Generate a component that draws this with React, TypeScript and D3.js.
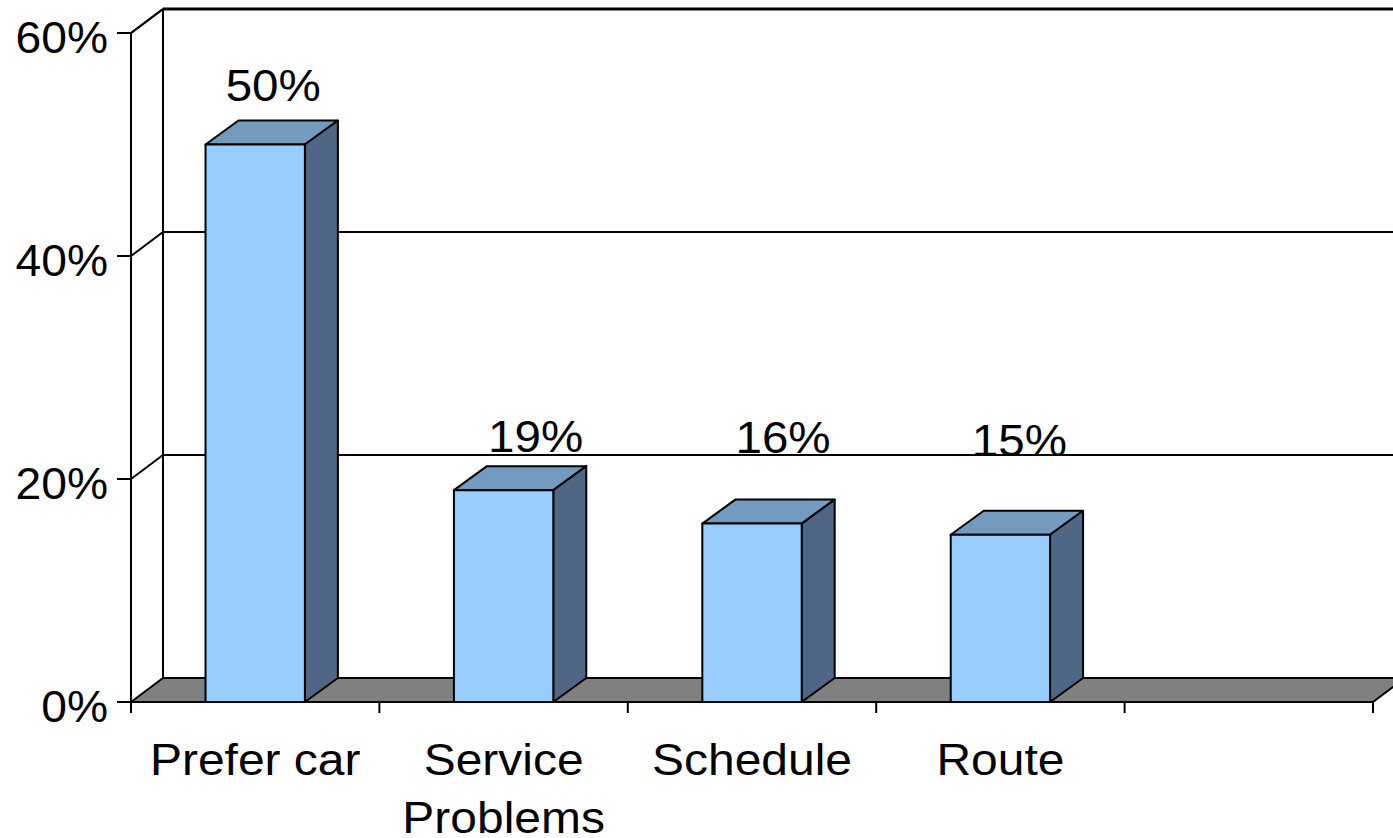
import React from "react";
import * as d3 from "d3";

// ---- data ----
const categories: string[] = ["Prefer car", "Service\nProblems", "Schedule", "Route", ""];
const values: number[] = [50, 19, 16, 15];
const valueLabels: string[] = ["50%", "19%", "16%", "15%"];
const yTicks: number[] = [0, 20, 40, 60];

// ---- layout ----
const W = 1393;
const H = 838;
const DX = 32;
const DY = -24;
const FONT = "'Liberation Sans', Arial, Helvetica, sans-serif";
// label nudges relative to bar's top-back centre (as placed in the reference)
const labelNudgeX = [18, 32, 31, 19];
const labelNudgeY = [-20, -14, -47, -55];

export default function App() {
  const x = d3.scaleBand<string>().domain(categories.map((c, i) => String(i))).range([131, 1373]).padding(0);
  const y = d3.scaleLinear().domain([0, 60]).range([702, 33]);
  const bw = x.bandwidth() * 0.4;
  const bdx = 33;
  const bdy = -24;

  const stroke = "#000";
  const sw = 2;

  const x0 = 131;
  const x1 = 1373;

  return (
    <svg width={W} height={H} style={{ position: "absolute", left: 0, top: 0, background: "#fff" }}>
      {/* back wall & left wall outlines */}
      <line x1={x0 + DX} y1={y(60) + DY} x2={x0 + DX} y2={y(0) + DY} stroke={stroke} strokeWidth={sw} />
      <line x1={x0} y1={y(60)} x2={x0 + DX} y2={y(60) + DY} stroke={stroke} strokeWidth={sw} />
      {yTicks.map((t) => (
        <g key={"g" + t}>
          {t > 0 && (
            <line x1={x0} y1={y(t)} x2={x0 + DX} y2={y(t) + DY} stroke={stroke} strokeWidth={sw} />
          )}
          {t > 0 && (
            <line x1={x0 + DX} y1={y(t) + DY} x2={x1 + DX + 40} y2={y(t) + DY} stroke={stroke} strokeWidth={t === 60 ? 3 : sw} />
          )}
        </g>
      ))}
      {/* floor */}
      <path
        d={`M${x0},${y(0)} L${x1},${y(0)} L${x1 + DX},${y(0) + DY} L${x0 + DX},${y(0) + DY} Z`}
        fill="#808080"
        stroke={stroke}
        strokeWidth={sw}
        strokeLinejoin="round"
      />
      {/* bars */}
      {values.map((v, i) => {
        const cx = (x(String(i)) as number) + x.bandwidth() / 2;
        const l = cx - bw / 2;
        const r = cx + bw / 2;
        const top = y(v);
        const bot = y(0);
        return (
          <g key={"b" + i} stroke={stroke} strokeWidth={sw} strokeLinejoin="round">
            <path d={`M${l},${top} L${r},${top} L${r + bdx},${top + bdy} L${l + bdx},${top + bdy} Z`} fill="#739BC0" />
            <path d={`M${r},${top} L${r + bdx},${top + bdy} L${r + bdx},${bot + bdy} L${r},${bot} Z`} fill="#4F6685" />
            <rect x={l} y={top} width={bw} height={bot - top} fill="#99CCFF" />
          </g>
        );
      })}
      {/* value labels */}
      {values.map((v, i) => {
        const cx = (x(String(i)) as number) + x.bandwidth() / 2;
        return (
          <text
            key={"vl" + i}
            transform={`translate(${cx + labelNudgeX[i]},${y(v) + bdy + labelNudgeY[i]}) scale(1.08,1)`}
            textAnchor="middle"
            fontFamily={FONT}
            fontSize={44}
            fill="#000"
          >
            {valueLabels[i]}
          </text>
        );
      })}
      {/* front axis */}
      <line x1={x0} y1={y(60)} x2={x0} y2={y(0) + 11} stroke={stroke} strokeWidth={sw} />
      <line x1={x0} y1={y(0)} x2={x1} y2={y(0)} stroke={stroke} strokeWidth={sw} />
      {yTicks.map((t) => (
        <g key={"yt" + t}>
          <line x1={x0 - 14} y1={y(t)} x2={x0} y2={y(t)} stroke={stroke} strokeWidth={sw} />
          <text
            transform={`translate(108,${y(t) + 20}) scale(1.05,1)`}
            textAnchor="end"
            fontFamily={FONT}
            fontSize={44}
            fill="#000"
          >
            {t + "%"}
          </text>
        </g>
      ))}
      {categories.map((c, i) => {
        const bx = x(String(i)) as number;
        return <line key={"xt" + i} x1={bx} y1={y(0)} x2={bx} y2={y(0) + 11} stroke={stroke} strokeWidth={sw} />;
      })}
      <line x1={x1} y1={y(0)} x2={x1} y2={y(0) + 11} stroke={stroke} strokeWidth={sw} />
      {categories.map((c, i) => {
        const cx = (x(String(i)) as number) + x.bandwidth() / 2;
        const lines = c.split("\n");
        return (
          <text
            key={"cl" + i}
            transform={`translate(${cx},775) scale(1.09,1)`}
            textAnchor="middle"
            fontFamily={FONT}
            fontSize={44}
            fill="#000"
          >
            {lines.map((ln, j) => (
              <tspan key={j} x={0} dy={j === 0 ? 0 : 58}>
                {ln}
              </tspan>
            ))}
          </text>
        );
      })}
    </svg>
  );
}
